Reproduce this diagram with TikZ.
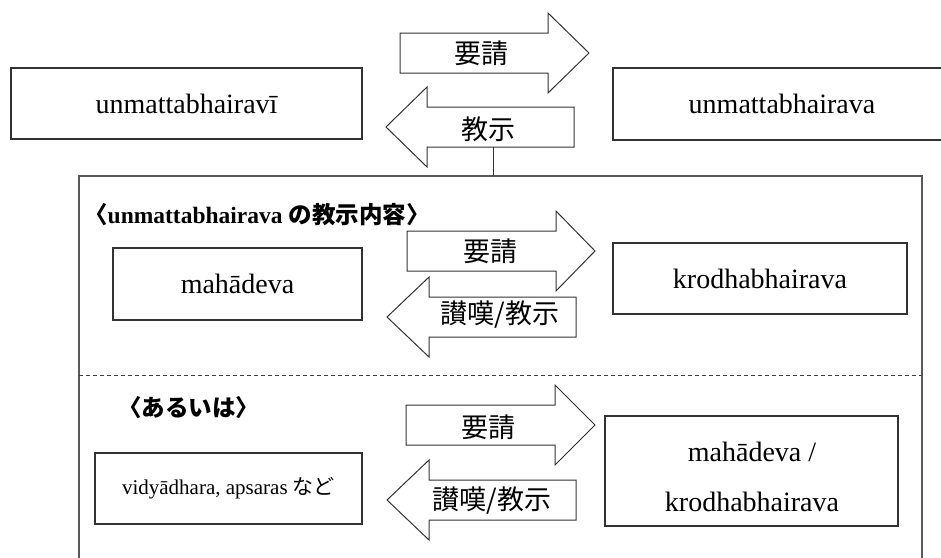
\documentclass[tikz,border=0pt]{standalone}
\usepackage{fontspec}
\setmainfont{Liberation Serif}
\newfontfamily\jp{Noto Sans CJK JP}
\begin{document}
\begin{tikzpicture}[x=1pt,y=-1pt,
  box/.style={draw=black!80, line width=1.3pt, inner sep=0pt, fill=white},
  barrow/.style={draw=black!80, line width=1pt, fill=white},
  frame/.style={draw=black!65, line width=1.2pt},
  latin/.style={font=\fontsize{28}{32}\selectfont},
  cjk/.style={font=\jp\fontsize{27}{30}\selectfont, inner sep=0pt},
  head/.style={font=\fontsize{23.5}{28}\selectfont\bfseries, inner sep=0pt, anchor=west},
  rarr/.style args={#1/#2/#3/#4}{insert path={(#1,#4-20) -- (#2,#4-20) -- (#2,#4-40) -- (#3,#4) -- (#2,#4+40) -- (#2,#4+20) -- (#1,#4+20) -- cycle}}]
\useasboundingbox (0,0) rectangle (941,557);
\clip (0,0) rectangle (941,557);
% outer frame
\draw[frame] (79,565) -- (79,176) -- (922,176) -- (922,565);
\draw[black!75, line width=1pt, dash pattern=on 4pt off 3pt] (79,375) -- (922,375);
% top row
\node[box, latin, minimum width=351pt, minimum height=71pt] (uvi) at (186.5,103.5) {unmattabhairavī};
\node[box, latin, minimum width=338pt, minimum height=72pt] (uva) at (782,104) {unmattabhairava};
\draw[barrow, rarr=400/548/589/53];
\node[cjk] (req1) at (481,53) {要請};
\draw[barrow, rarr=574/427/386/127];
\node[cjk] (tea1) at (488,129) {教示};
\coordinate (tb) at (493,147);
\coordinate (ft) at (493,176);
\draw[black!80, line width=1pt] (tb) -- (ft);
% section 1
\node[head] (h1) at (84,215) {{\jp 〈}unmattabhairava {\jp の教示内容〉}};
\node[box, latin, minimum width=249pt, minimum height=72pt] (mah) at (237.5,284) {mahādeva};
\node[box, latin, minimum width=294pt, minimum height=71pt] (kro) at (760,278.5) {krodhabhairava};
\draw[barrow, rarr=407/556/595/251];
\node[cjk] (req2) at (490,251) {要請};
\draw[barrow, rarr=576/429/387/317];
\node[cjk] (tea2) at (500,315) {讃嘆/教示};
% section 2
\node[head] (h2) at (118,408) {\jp 〈あるいは〉};
\node[box, font=\fontsize{21}{25}\selectfont, minimum width=267pt, minimum height=71pt] (vid) at (228.5,488.5) {vidyādhara, apsaras {\jp など}};
\node[box, minimum width=293pt, minimum height=110pt] (mk) at (751.5,471) {};
\node[align=center, font=\fontsize{28}{50}\selectfont] (mkt) at (752,477) {mahādeva /\\krodhabhairava};
\draw[barrow, rarr=406/555/595/425];
\node[cjk] (req3) at (488,427) {要請};
\draw[barrow, rarr=576/429/387/500];
\node[cjk] (tea3) at (492,501) {讃嘆/教示};
\end{tikzpicture}
\end{document}
